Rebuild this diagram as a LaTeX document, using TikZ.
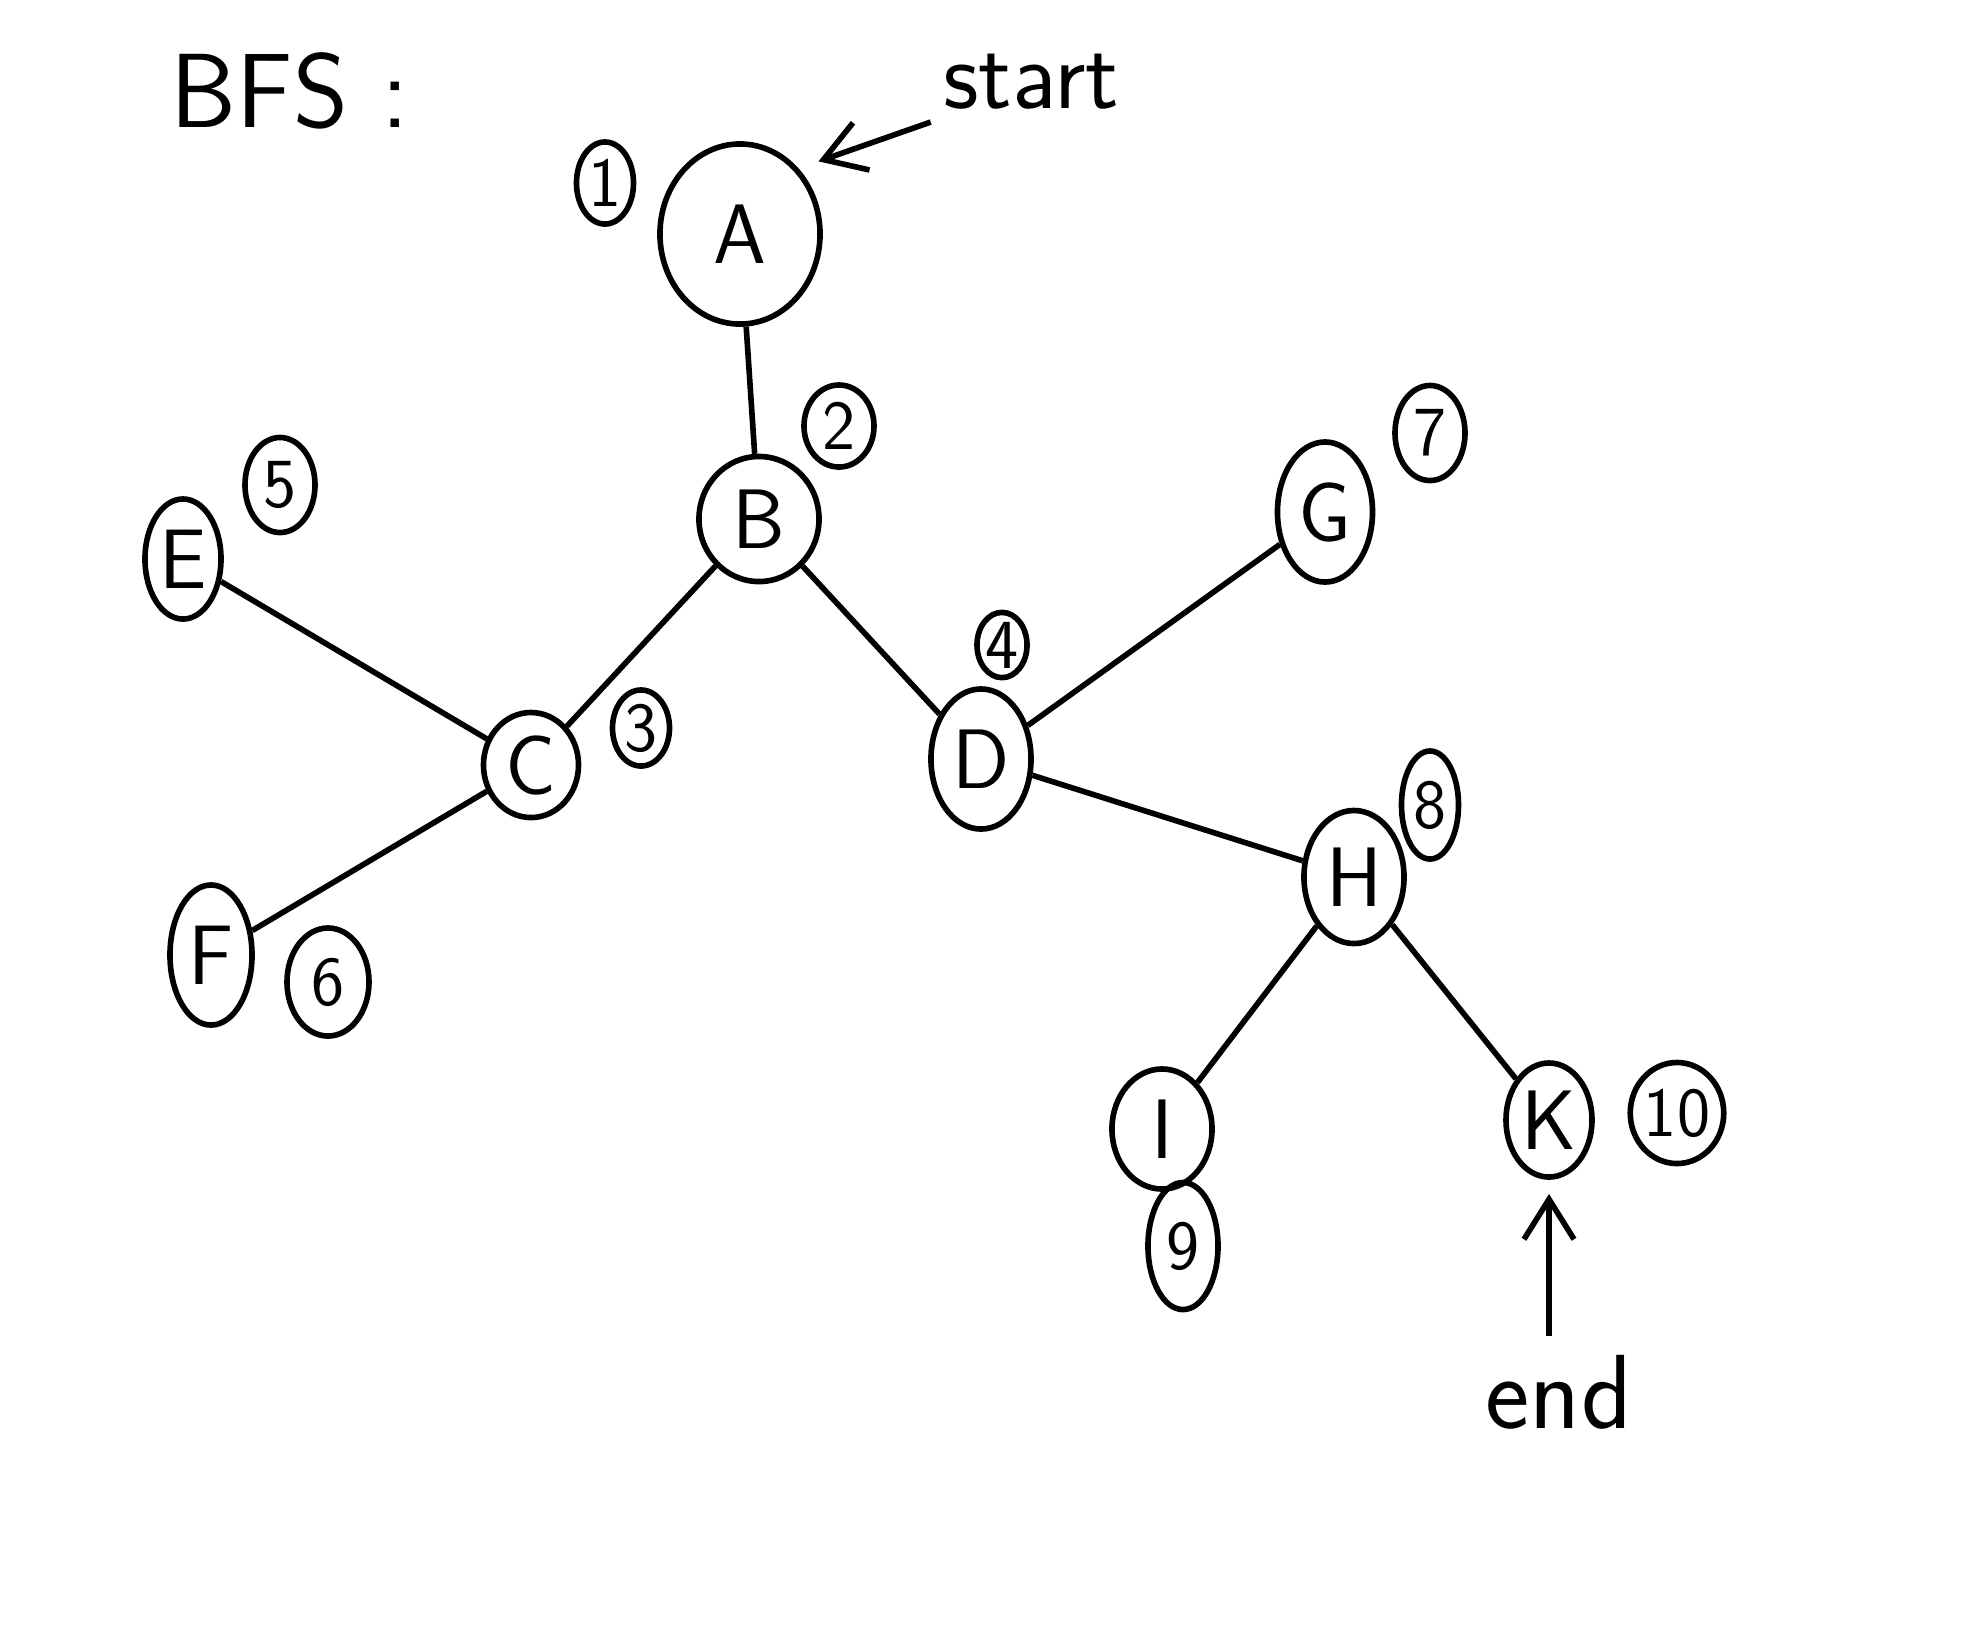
\documentclass[tikz,border=0pt]{standalone}
\usepackage{tikz}
\usetikzlibrary{shapes.geometric,arrows.meta,positioning}

\begin{document}
\begin{tikzpicture}[
  x=0.01cm,y=-0.01cm,
  vtx/.style={draw,ellipse,line width=1.6pt,inner sep=0pt,font=\sffamily\fontsize{24}{28}\selectfont},
  num/.style={draw,ellipse,line width=1.6pt,inner sep=0pt,font=\sffamily\fontsize{20}{24}\selectfont},
  lbl/.style={font=\sffamily\fontsize{28}{32}\selectfont},
  ed/.style={line width=1.6pt},
  ar/.style={line width=1.6pt,-{Straight Barb[length=4mm,width=5mm]}}
]
\useasboundingbox (0,0) rectangle (1984,1632);
\node[lbl,font=\sffamily\fontsize{30}{36}\selectfont] (title) at (290,91) {BFS :};
\node[lbl] (startlbl) at (1031,82) {start};
\node[lbl,font=\sffamily\fontsize{30}{36}\selectfont] (endlbl) at (1559,1392) {end};
\node[vtx,minimum width=1.6cm,minimum height=1.8cm] (A) at (740,234) {A};
\node[vtx,minimum width=1.2cm,minimum height=1.25cm] (B) at (759,519) {B};
\node[vtx,minimum width=0.95cm,minimum height=1.05cm] (C) at (531,765) {C};
\node[vtx,minimum width=1.0cm,minimum height=1.4cm] (D) at (981,759) {D};
\node[vtx,minimum width=0.76cm,minimum height=1.2cm] (E) at (183,559) {E};
\node[vtx,minimum width=0.82cm,minimum height=1.4cm] (F) at (211,955) {F};
\node[vtx,minimum width=0.95cm,minimum height=1.4cm] (G) at (1325,512) {G};
\node[vtx,minimum width=1.0cm,minimum height=1.33cm] (H) at (1354,877) {H};
\node[vtx,minimum width=1.0cm,minimum height=1.2cm] (I) at (1162,1129) {I};
\node[vtx,minimum width=0.86cm,minimum height=1.14cm] (K) at (1549,1120) {K};
\node[num,minimum width=0.57cm,minimum height=0.82cm] (n1) at (605,183) {1};
\node[num,minimum width=0.7cm,minimum height=0.82cm] (n2) at (839,426) {2};
\node[num,minimum width=0.57cm,minimum height=0.76cm] (n3) at (641,728) {3};
\node[num,minimum width=0.5cm,minimum height=0.63cm] (n4) at (1002,645) {4};
\node[num,minimum width=0.7cm,minimum height=0.95cm] (n5) at (280,485) {5};
\node[num,minimum width=0.82cm,minimum height=1.08cm] (n6) at (328,982) {6};
\node[num,minimum width=0.7cm,minimum height=0.95cm] (n7) at (1430,433) {7};
\node[num,minimum width=0.57cm,minimum height=1.08cm] (n8) at (1430,805) {8};
\node[num,minimum width=0.7cm,minimum height=1.27cm] (n9) at (1183,1246) {9};
\node[num,minimum width=0.76cm,minimum height=1.01cm] (n10) at (1677,1113) {10};
\draw[ed] (A)--(B);
\draw[ed] (B)--(C);
\draw[ed] (B)--(D);
\draw[ed] (C)--(E);
\draw[ed] (C)--(F);
\draw[ed] (D)--(G);
\draw[ed] (D)--(H);
\draw[ed] (H)--(I);
\draw[ed] (H)--(K);
\draw[ar,shorten >=6pt] (startlbl.south west) -- (A.north east);
\draw[ar,shorten <=2pt,shorten >=4pt] (endlbl.north -| K) -- (K.south);
\end{tikzpicture}
\end{document}
